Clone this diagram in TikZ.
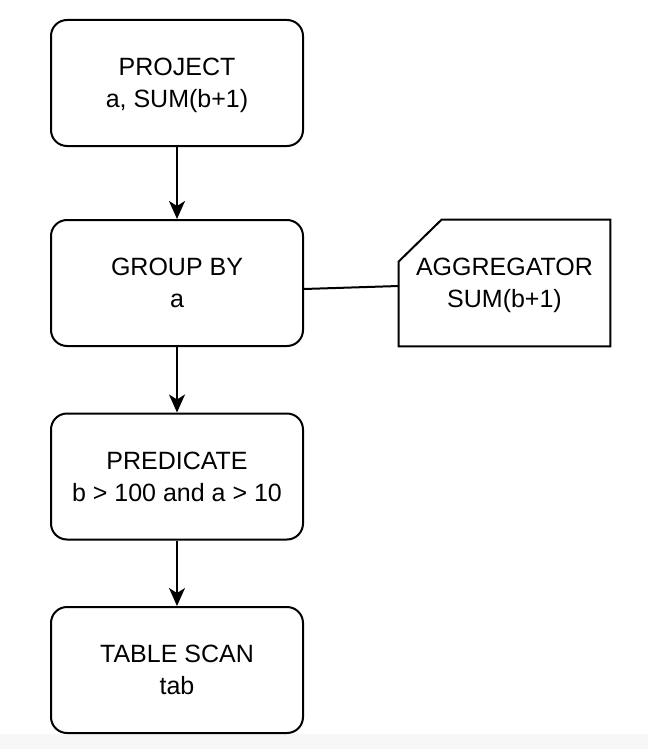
\documentclass[tikz,border=0pt]{standalone}
\usepackage{fontspec}
\setmainfont{Liberation Sans}
\usetikzlibrary{arrows.meta}
\newcommand\twoline[2]{\rule{0pt}{8.95pt}\smash{#1}\\\smash{#2}}
\begin{document}
\begin{tikzpicture}[x=0.5pt,y=-0.5pt,
  opbox/.style={draw=black, line width=1pt, rounded corners=8pt, fill=white,
    minimum width=126pt, minimum height=63pt, align=center, inner sep=0pt,
    font=\fontsize{12.5}{16}\selectfont},
  aggtext/.style={minimum width=105.5pt, minimum height=63pt, align=center, inner sep=0pt,
    font=\fontsize{12.5}{16}\selectfont},
  flow/.style={line width=1pt, -{Stealth[length=9pt,width=8pt,inset=2.5pt]}},
  link/.style={line width=1pt}
]
\useasboundingbox (0,0) rectangle (648,749);
\fill[white] (0,0) rectangle (648,749);
\fill[black!3] (0,734) rectangle (648,749);

\node[opbox] (proj) at (177,83) {\twoline{PROJECT}{a, SUM(b+1)}};
\node[opbox] (grp) at (177,283) {\twoline{GROUP BY}{a}};
\node[opbox] (pred) at (177,476.5) {\twoline{PREDICATE}{b {>} 100 and a {>} 10}};
\node[opbox] (scan) at (177,670) {\twoline{TABLE SCAN}{tab}};

\node[aggtext] (agg) at (504.5,283) {\twoline{AGGREGATOR}{SUM(b+1)}};
\draw[line width=1pt, line join=miter]
  ([yshift=-21pt]agg.north west) -- ([xshift=21.5pt]agg.north west) -- (agg.north east)
  -- (agg.south east) -- (agg.south west) -- cycle;

\draw[flow] (proj.south) -- (grp.north);
\draw[flow] (grp.south) -- (pred.north);
\draw[flow] (pred.south) -- (scan.north);
\draw[link] ([yshift=-3pt]grp.east) -- ([yshift=-1.5pt]agg.west);
\end{tikzpicture}
\end{document}
